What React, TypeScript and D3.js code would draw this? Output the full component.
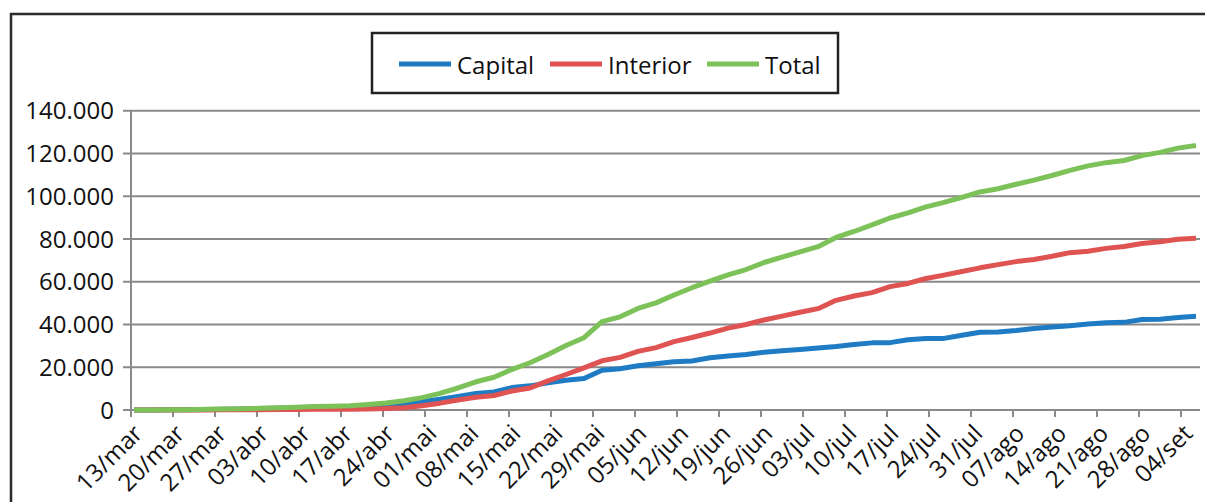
import React from "react";
import * as d3 from "d3";

// Weekly axis labels (every 7th day starting 13/mar)
const tickLabels = [
  "13/mar", "20/mar", "27/mar", "03/abr", "10/abr", "17/abr", "24/abr",
  "01/mai", "08/mai", "15/mai", "22/mai", "29/mai", "05/jun", "12/jun",
  "19/jun", "26/jun", "03/jul", "10/jul", "17/jul", "24/jul", "31/jul",
  "07/ago", "14/ago", "21/ago", "28/ago", "04/set",
];

// Total number of daily categories on the axis (13/mar .. 06/set)
const dayCount = 178;

// Day offsets (from 13/mar) of the plotted values
const sampleDays = [
  0, 3, 6, 9, 12, 15, 18, 21, 24, 27, 30, 33, 36, 39, 42, 45, 48, 51, 54, 57,
  60, 63, 66, 69, 72, 75, 78, 81, 84, 87, 90, 93, 96, 99, 102, 105, 108, 111, 114, 117,
  120, 123, 126, 129, 132, 135, 138, 141, 144, 147, 150, 153, 156, 159, 162, 165, 168, 171, 174, 177,
];

const capital = [
  10, 35, 80, 150, 260, 390, 510, 670, 820, 1050, 1250, 1450, 1600, 2000, 2500, 3000, 3900, 5000, 6300, 7700,
  8400, 10500, 11300, 12700, 13900, 14700, 18600, 19300, 20700, 21600, 22600, 22900, 24400, 25300, 26000, 27000, 27700, 28300, 29000, 29700,
  30600, 31400, 31500, 32900, 33500, 33500, 35000, 36400, 36500, 37200, 38100, 38800, 39400, 40200, 40800, 41000, 42300, 42400, 43300, 43900,
];

const interior = [
  0, 5, 10, 20, 40, 60, 90, 130, 180, 250, 300, 350, 400, 500, 700, 1100, 2000, 3200, 4700, 6000,
  6800, 8900, 10300, 13600, 16600, 19700, 23000, 24600, 27400, 29200, 32000, 33900, 36000, 38300, 40000, 42100, 43900, 45700, 47400, 51300,
  53300, 54900, 57700, 59200, 61500, 63100, 64800, 66500, 68000, 69400, 70400, 71900, 73600, 74300, 75600, 76500, 77900, 78700, 79900, 80300,
];

const total = [
  10, 40, 90, 170, 300, 450, 600, 800, 1000, 1300, 1600, 1800, 2000, 2600, 3300, 4300, 5800, 7800, 10300, 13200,
  15300, 19000, 22100, 26000, 30200, 33800, 41300, 43600, 47500, 50100, 53800, 57200, 60300, 63200, 65700, 69000, 71500, 74000, 76400, 80700,
  83500, 86600, 89800, 92200, 95000, 97100, 99500, 102000, 103500, 105600, 107500, 109700, 112100, 114200, 115700, 116700, 119000, 120500, 122500, 123700,
];

const yTicks = [0, 20000, 40000, 60000, 80000, 100000, 120000, 140000];

const series = [
  { name: "Capital", values: capital, color: "#1f7cc4" },
  { name: "Interior", values: interior, color: "#e05353" },
  { name: "Total", values: total, color: "#7dc159" },
];

const FONT = "'Open Sans', 'Noto Sans', sans-serif";

export default function App() {
  const width = 1205;
  const height = 502;
  const plot = { left: 131, right: 1199, top: 110.7, bottom: 410 };

  const x = d3.scaleLinear().domain([-0.5, dayCount - 0.5]).range([plot.left, plot.right]);
  const y = d3.scaleLinear().domain([0, 140000]).range([plot.bottom, plot.top]);

  const fmt = (v: number) => d3.format(",")(v).replace(/,/g, ".");

  const line = d3
    .line<number>()
    .x((_, i) => x(sampleDays[i]))
    .y((v) => y(v));

  const gridColor = "#8a8a8a";

  const legendItems = [
    { name: "Capital", color: series[0].color, x0: 399, tx: 457 },
    { name: "Interior", color: series[1].color, x0: 550, tx: 608 },
    { name: "Total", color: series[2].color, x0: 707, tx: 765 },
  ];

  return (
    <svg
      width={width}
      height={height}
      style={{ position: "absolute", left: 0, top: 0, background: "#fff" }}
      fontFamily={FONT}
    >
      <rect x={0} y={0} width={width} height={height} fill="#fff" />
      {/* outer chart frame */}
      <rect x={11} y={14} width={width + 20} height={height + 20} fill="none" stroke="#2b2b2b" strokeWidth={2.5} />

      {/* horizontal gridlines + y ticks */}
      {yTicks.map((t) => (
        <g key={t}>
          <line x1={plot.left - 8} x2={1200} y1={y(t)} y2={y(t)} stroke={gridColor} strokeWidth={2} />
          <text
            x={114}
            y={y(t)}
            dy="0.36em"
            textAnchor="end"
            fontSize={24}
            fill="#111"
          >
            {fmt(t)}
          </text>
        </g>
      ))}

      {/* y axis line */}
      <line x1={plot.left} x2={plot.left} y1={plot.top} y2={plot.bottom + 7} stroke={gridColor} strokeWidth={2} />

      {/* x ticks and labels */}
      {tickLabels.map((lab, i) => {
        const d = i * 7;
        const tx = x(d - 0.5);
        const cx = x(d);
        return (
          <g key={lab}>
            <line x1={tx} x2={tx} y1={plot.bottom} y2={plot.bottom + 7} stroke={gridColor} strokeWidth={2} />
            <text
              transform={`translate(${cx + 10},${435}) rotate(-45)`}
              textAnchor="end"
              fontSize={24}
              fill="#111"
            >
              {lab}
            </text>
          </g>
        );
      })}

      {/* series lines */}
      {series.map((s) => (
        <path
          key={s.name}
          d={line(s.values) || ""}
          fill="none"
          stroke={s.color}
          strokeWidth={5}
          strokeLinejoin="round"
        />
      ))}

      {/* legend */}
      <rect x={372} y={33} width={466} height={60} fill="#fff" stroke="#222" strokeWidth={2.5} />
      {legendItems.map((it) => (
        <g key={it.name}>
          <line x1={it.x0} x2={it.x0 + 52} y1={64} y2={64} stroke={it.color} strokeWidth={5} />
          <text x={it.tx} y={74} fontSize={24} fill="#111">
            {it.name}
          </text>
        </g>
      ))}
    </svg>
  );
}
